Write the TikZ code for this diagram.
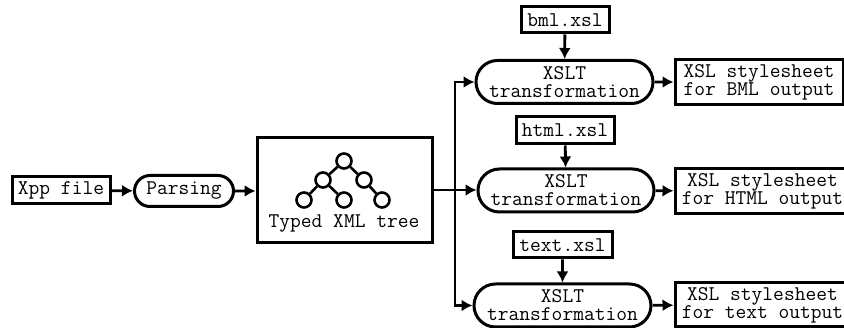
\documentclass[tikz,border=0pt]{standalone}
\usetikzlibrary{arrows.meta}
\usetikzlibrary{shapes.misc}
\tikzset{
    every node/.style={font=\ttfamily\fontsize{20.9}{18}\selectfont,align=center,inner sep=0pt},
    filebox/.style={draw,line width=3pt},
    procbox/.style={draw,line width=3pt,rounded rectangle},
    treedot/.style={draw,circle,line width=2.6pt,minimum size=15pt},
    link/.style={line width=2.8pt,-{Latex[length=11pt,width=12pt]}},
    plainlink/.style={line width=2.6pt}
}
\begin{document}
\begin{tikzpicture}[x=1pt,y=-1pt]
            \useasboundingbox (0,0) rectangle (844,328);
            \node[filebox,minimum width=98pt,minimum height=27pt] (xpp) at (61,190.5) {Xpp file};
            \node[procbox,minimum width=99pt,minimum height=31pt] (parsing) at (184,191) {Parsing};
            \node[filebox,minimum width=175pt,minimum height=105pt] (tree) at (344.5,190.5) {};
            \node[treedot] (t1) at (344,161) {};
            \node[treedot] (t2) at (323,180) {};
            \node[treedot] (t3) at (364,180) {};
            \node[treedot] (t4) at (304,200) {};
            \node[treedot] (t5) at (344,200) {};
            \node[treedot] (t6) at (382,200) {};
            \node[anchor=base] (treelabel) at (344,228) {Typed XML tree};
            \draw[plainlink] (t1) -- (t2);
            \draw[plainlink] (t1) -- (t3);
            \draw[plainlink] (t2) -- (t4);
            \draw[plainlink] (t2) -- (t5);
            \draw[plainlink] (t3) -- (t6);
            \coordinate (trunk) at (455,190);
            % top row
            \node[filebox,minimum width=88pt,minimum height=26pt] (bmlfile) at (565,20) {bml.xsl};
            \node[procbox,minimum width=177pt,minimum height=43pt] (bmlproc) at (564.5,82) {XSLT\\transformation};
            \node[filebox,minimum width=168pt,minimum height=45pt] (bmlout) at (759,82) {XSL stylesheet\\for BML output};
            % middle row
            \node[filebox,minimum width=98pt,minimum height=27pt] (htmlfile) at (565,130.5) {html.xsl};
            \node[procbox,minimum width=176pt,minimum height=43pt] (htmlproc) at (566,190.5) {XSLT\\transformation};
            \node[filebox,minimum width=175pt,minimum height=45pt] (htmlout) at (762.5,191) {XSL stylesheet\\for HTML output};
            % bottom row
            \node[filebox,minimum width=99pt,minimum height=26pt] (textfile) at (562.5,245) {text.xsl};
            \node[procbox,minimum width=177pt,minimum height=43pt] (textproc) at (562.5,305.5) {XSLT\\transformation};
            \node[filebox,minimum width=175pt,minimum height=44pt] (textout) at (762.5,305) {XSL stylesheet\\for text output};
            \draw[link] (xpp) -- (parsing);
            \draw[link] (parsing) -- (parsing-|tree.west);
            \draw[plainlink] (tree.east|-trunk) -- (trunk);
            \draw[link] (trunk) |- (bmlproc);
            \draw[link] (trunk) -- (htmlproc.west|-trunk);
            \draw[link] (trunk) |- (textproc);
            \draw[link] (bmlfile) -- (bmlproc);
            \draw[link] (htmlfile) -- (htmlproc);
            \draw[link] (textfile) -- (textproc);
            \draw[link] (bmlproc) -- (bmlout);
            \draw[link] (htmlproc) -- (htmlout);
            \draw[link] (textproc) -- (textout);
        \end{tikzpicture}
\end{document}
